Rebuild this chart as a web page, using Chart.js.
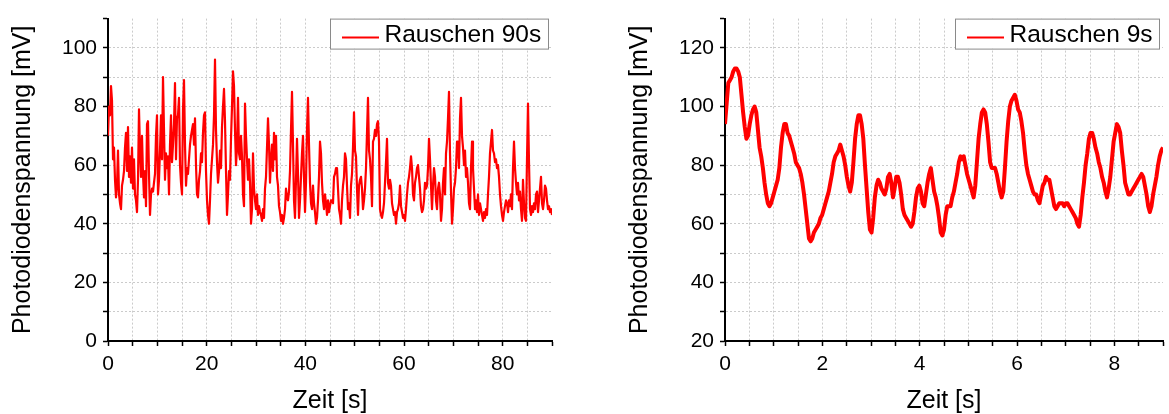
<!DOCTYPE html>
<html>
<head>
<meta charset="utf-8">
<title>Rauschen</title>
<script src="https://cdn.jsdelivr.net/npm/chart.js@4.4.1/dist/chart.umd.min.js"></script>
<style>
  html, body { margin: 0; padding: 0; background: #fff; }
  #wrap { position: relative; width: 1169px; height: 414px; overflow: hidden; }
  canvas { position: absolute; top: 0; }
  #c90 { left: 0; }
  #c9 { left: 584px; }
</style>
</head>
<body>
<div id="wrap">
  <canvas id="c90" width="584" height="414"></canvas>
  <canvas id="c9" width="585" height="414"></canvas>
</div>
<script>
const FONT = '"Liberation Sans", Arial, Helvetica, sans-serif';

// Photodiodenspannung [mV] over 90 s, equally spaced samples from 0 to 90 s
const rauschen90 = [
  70,80,77,87,82,62,66,55,49,53, 65,50,47,45,53,55,58,66,71,58,
  73,56,63,54,66,52,62,50,48,44, 55,79,65,56,70,57,49,58,46,74,
  75,57,43,50,52,51,54,57,70,77, 50,55,65,77,62,90,72,55,64,59,
  63,50,67,77,61,67,74,88,62,76, 77,83,60,54,50,79,89,67,53,59,
  57,62,67,70,72,74,67,76,60,50, 49,55,58,64,61,71,77,78,58,48,
  43,40,48,57,62,67,77,96,72,61, 54,58,65,59,73,80,86,75,58,43,
  50,58,55,69,80,92,87,72,60,66, 83,64,62,70,63,50,46,81,70,62,
  55,62,54,40,45,64,52,48,45,50, 43,46,44,43,41,45,42,52,56,66,
  76,67,54,62,67,58,71,62,70,56, 53,46,44,41,43,40,42,45,52,49,
  48,51,58,72,85,67,48,42,55,69, 57,42,48,56,64,70,56,44,54,72,
  83,67,54,47,45,53,47,44,40,42, 48,56,68,64,54,48,45,50,47,43,
  48,44,
  46,48,48,47,56,57,59,59,52,45, 43,40,48,53,56,64,62,53,45,47,
  42,53,57,66,78,65,63,52,43,53, 55,56,52,45,48,52,59,71,83,65,
  62,56,46,68,69,72,70,74,75,68, 45,43,42,44,47,54,61,69,54,52,
  55,53,47,45,43,44,40,44,45,47, 53,46,44,42,43,41,45,50,54,56,
  59,63,59,50,48,54,56,59,60,56, 52,46,44,45,48,54,52,53,59,69,
  62,53,45,53,59,56,48,45,52,54, 50,41,45,54,59,50,64,68,76,85,
  64,51,40,45,52,54,59,68,68,59, 76,83,70,66,60,65,56,59,54,47,
  45,59,68,59,52,45,48,44,50,43, 47,45,43,41,44,42,45,43,50,56,
  64,68,72,65,64,61,62,59,60,56, 50,46,43,41,44,46,48,47,44,48,
  46,50,45,59,68,59,54,50,54,48, 51,45,41,55,47,42,41,62,81,61,
  45,43,46,44,47,45,50,51,44,48, 52,56,47,45,48,53,52,48,45,46,
  44,45,43
];

// Photodiodenspannung [mV] over 9 s, equally spaced samples from 0 to 9 s
const rauschen9 = [
  94,101,108,109,110,112,113,113,112,110, 104,98,93,89,90,94,97,99,100,98,
  92,86,83,79,74,70,67,66,67,69, 71,73,75,79,86,91,94,94,91,90,
  88,86,84,81,80,79,77,74,70,65, 60,55,54,55,57,58,59,60,62,63,
  65,67,69,71,74,77,81,83,84,85, 87,85,83,80,76,73,71,74,81,89,
  94,97,97,94,89,80,72,64,58,57, 62,69,73,75,74,72,71,70,72,76,
  77,74,69,72,76,76,74,70,65,63, 62,61,60,59,60,64,69,72,73,71,
  67,66,70,74,77,79,75,71,69,66, 62,57,56,58,63,66,
  66,66,69,71,74,77,81,83,82,83, 80,77,75,73,71,69,73,81,89,94,
  98,99,98,94,88,81,79,79,79,77, 74,71,69,71,79,88,95,100,102,103,
  104,102,99,98,95,91,85,80,77,75, 73,71,70,70,68,67,70,73,74,76,
  75,75,72,69,66,65,66,67,67,67, 66,67,67,66,65,64,63,62,60,59,
  63,69,74,80,84,89,91,91,89,86, 84,81,79,76,74,71,69,72,76,82,
  88,91,94,93,91,85,80,74,72,70, 70,71,72,73,74,75,76,77,76,73,
  70,66,64,66,70,73,76,80,83,85, 86
];

const xLabels90 = [0, 20, 40, 60, 80];
const yLabels90 = [0, 20, 40, 60, 80, 100];
const xLabels9 = [0, 2, 4, 6, 8];
const yLabels9 = [20, 40, 60, 80, 100, 120];

function toPoints(values, span) {
  const dt = span / (values.length - 1);
  return values.map((v, i) => ({ x: i * dt, y: v }));
}

// framed legend in the upper right corner of the plot area
const boxLegend = {
  id: 'boxLegend',
  afterDraw(chart) {
    const { ctx, chartArea } = chart;
    const ds = chart.data.datasets[0];
    ctx.save();
    ctx.font = '24.5px ' + FONT;
    const tw = ctx.measureText(ds.label).width;
    const right = chartArea.right - 3;
    const top = chartArea.top;
    const left = Math.round(right - (54 + tw + 8));
    const h = 30;
    ctx.fillStyle = '#fff';
    ctx.fillRect(left, top, right - left, h);
    ctx.strokeStyle = '#8a8a8a';
    ctx.lineWidth = 1;
    ctx.strokeRect(left + 0.5, top + 0.5, right - left - 1, h);
    ctx.strokeStyle = ds.borderColor;
    ctx.lineWidth = 2;
    ctx.beginPath();
    ctx.moveTo(left + 12, top + 19);
    ctx.lineTo(left + 49, top + 19);
    ctx.stroke();
    ctx.fillStyle = '#000';
    ctx.textBaseline = 'alphabetic';
    ctx.fillText(ds.label, left + 54.5, top + 23.5);
    ctx.restore();
  }
};

function panel(id, o) {
  const gridColor = (max) => (c) => (c.tick && c.tick.value === max) ? 'rgba(0,0,0,0)' : '#cbcbcb';
  new Chart(document.getElementById(id), {
    type: 'line',
    data: {
      datasets: [{
        label: o.label,
        data: toPoints(o.values, o.xMax),
        borderColor: '#ff0000',
        borderWidth: o.lineWidth,
        borderJoinStyle: 'round',
        pointRadius: 0,
        tension: 0,
        fill: false
      }]
    },
    options: {
      responsive: false,
      animation: false,
      events: [],
      layout: { padding: { left: 0, top: 13, right: o.padRight, bottom: 0 } },
      plugins: { legend: { display: false }, tooltip: { enabled: false } },
      scales: {
        x: {
          type: 'linear', min: 0, max: o.xMax,
          afterFit: (s) => { s.height = 73; },
          ticks: {
            stepSize: o.xStep, autoSkip: false, maxRotation: 0, padding: 6,
            color: '#000', font: { family: FONT, size: 21 },
            callback: (v) => o.xLabels.includes(v) ? String(v) : ''
          },
          grid: {
            color: gridColor(o.xMax), lineWidth: 1,
            tickLength: 5, tickColor: '#000', tickWidth: 1.5, tickBorderDash: []
          },
          border: { color: '#000', width: 2, dash: [2, 2] },
          title: {
            display: true, text: 'Zeit [s]', color: '#000',
            font: { family: FONT, size: 25, lineHeight: 1 }, padding: 0
          }
        },
        y: {
          min: o.yMin, max: o.yMax,
          afterFit: (s) => { s.width = o.yWidth; },
          ticks: {
            stepSize: 10, autoSkip: false, padding: 6,
            color: '#000', font: { family: FONT, size: 21 },
            callback: (v) => o.yLabels.includes(v) ? String(v) : ''
          },
          grid: {
            color: gridColor(o.yMax), lineWidth: 1,
            tickLength: 5, tickColor: '#000', tickWidth: 1.5, tickBorderDash: []
          },
          border: { color: '#000', width: 2, dash: [2, 2] },
          title: {
            display: true, text: 'Photodiodenspannung [mV]', color: '#000',
            font: { family: FONT, size: 25, lineHeight: 1 },
            padding: { top: o.yTitlePad, bottom: 0 }
          }
        }
      }
    },
    plugins: [boxLegend]
  });
}

panel('c90', {
  label: 'Rauschen 90s', values: rauschen90, lineWidth: 2.2,
  xMax: 90, xStep: 5, xLabels: xLabels90,
  yMin: 0, yMax: 110, yLabels: yLabels90,
  yWidth: 108, yTitlePad: 11, padRight: 32
});

panel('c9', {
  label: 'Rauschen 9s', values: rauschen9, lineWidth: 4,
  xMax: 9, xStep: 0.5, xLabels: xLabels9,
  yMin: 20, yMax: 130, yLabels: yLabels9,
  yWidth: 141, yTitlePad: 44, padRight: 0
});
</script>
</body>
</html>
